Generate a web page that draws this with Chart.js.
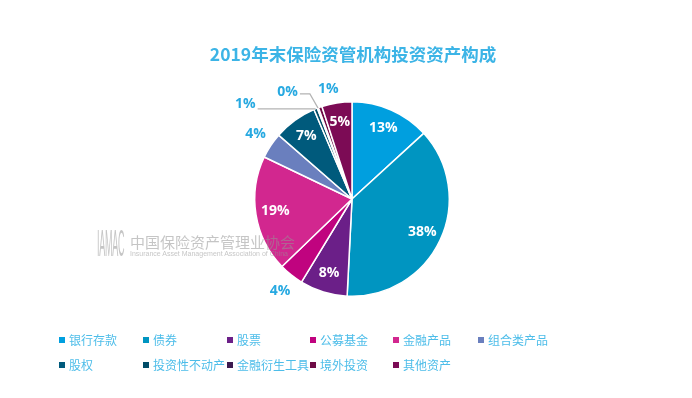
<!DOCTYPE html>
<html>
<head>
<meta charset="utf-8">
<script src="https://cdn.jsdelivr.net/npm/chart.js@4.4.0/dist/chart.umd.min.js"></script>
<style>
    body { margin: 0; background: #fff; }
    .wrap { position: relative; width: 692px; height: 398px; overflow: hidden; font-family: "Noto Sans CJK SC", "Noto Sans", sans-serif; }
    #pie { position: absolute; left: 0; top: 0; }
    .title { position: absolute; left: 0; width: 706px; top: 42px; text-align: center; font-size: 17.5px; font-weight: bold; color: #3cb4e6; line-height: 24px; }
    .mark { position: absolute; left: 96px; top: 228px; color: rgba(150,150,150,0.55); pointer-events: none; }
    .mark .logo { position: absolute; left: 1px; top: -5px; font-family: "Liberation Sans Narrow", sans-serif; font-size: 36px; letter-spacing: -1px; transform: scaleX(0.25); transform-origin: left; font-weight: 300; white-space: nowrap; }
    .mark .cn { position: absolute; left: 34px; top: 3px; font-size: 15px; white-space: nowrap; letter-spacing: 0px; }
    .mark .en { position: absolute; left: 34px; top: 22px; font-size: 7px; white-space: nowrap; font-family: "Liberation Sans", sans-serif; }
    .legend .item { position: absolute; font-size: 12px; color: #4dbde9; white-space: nowrap; line-height: 16px; }
    .legend .box { display: inline-block; width: 6px; height: 6px; margin-right: 4px; vertical-align: 2px; }
</style>
</head>
<body>
<div class="wrap">
    <canvas id="pie" width="692" height="398"></canvas>
    <div class="title">2019年末保险资管机构投资资产构成</div>
    <div class="mark">
        <div class="logo">IAMAC</div>
        <div class="cn">中国保险资产管理业协会</div>
        <div class="en">Insurance Asset Management Association of China</div>
    </div>
    <div class="legend" id="legend"></div>
</div>
<script>
// share of investment assets, %
const categories = ['银行存款', '债券', '股票', '公募基金', '金融产品', '组合类产品', '股权', '投资性不动产', '金融衍生工具', '境外投资', '其他资产'];
const shares = [13.2, 37.6, 7.9, 4.1, 19.3, 4.3, 7.2, 0.6, 0.2, 0.6, 5.0];
const colors = ['#009fdf', '#0095c1', '#6b1f88', '#c0037f', '#d2278f', '#6a7fbe', '#005a7c', '#004d68', '#3d1a4f', '#6e0b45', '#7c0b55'];
// where each percent label goes: inside, outside, or with a leader line
const labelModes = ['in', 'in', 'in', 'out', 'in', 'out', 'in', 'leaderLeft', 'leaderUp', 'outTop', 'in'];

const pieLabels = {
    id: 'pieLabels',
    afterDatasetsDraw(chart) {
        const ctx = chart.ctx;
        const arcs = chart.getDatasetMeta(0).data;
        ctx.save();
        ctx.font = 'bold 14px "Open Sans", sans-serif';
        ctx.textBaseline = 'middle';
        arcs.forEach((arc, i) => {
            const p = arc.getProps(['x', 'y', 'startAngle', 'endAngle', 'outerRadius'], true);
            const mid = (p.startAngle + p.endAngle) / 2;
            const r = p.outerRadius;
            const txt = Math.round(shares[i]) + '%';
            const mode = labelModes[i];
            const ex = p.x + Math.cos(mid) * r, ey = p.y + Math.sin(mid) * r;
            if (mode === 'in') {
                ctx.fillStyle = '#fff';
                ctx.textAlign = 'center';
                ctx.fillText(txt, p.x + Math.cos(mid) * r * 0.8, p.y + Math.sin(mid) * r * 0.8);
            } else if (mode === 'out') {
                ctx.fillStyle = '#27a9e1';
                ctx.textAlign = 'center';
                ctx.fillText(txt, p.x + Math.cos(mid) * (r + 18), p.y + Math.sin(mid) * (r + 21));
            } else if (mode === 'outTop') {
                ctx.fillStyle = '#27a9e1';
                ctx.textAlign = 'center';
                ctx.fillText(txt, ex + 8, ey - 18);
            } else {
                ctx.strokeStyle = '#b3b3b3';
                ctx.lineWidth = 1.2;
                ctx.beginPath();
                ctx.moveTo(ex, ey);
                let lx, ly;
                if (mode === 'leaderLeft') {
                    lx = ex - 58; ly = ey;
                    ctx.lineTo(lx, ly);
                } else {
                    ctx.lineTo(ex - 8, ey - 14);
                    lx = ex - 18; ly = ey - 14;
                    ctx.lineTo(lx, ly);
                }
                ctx.stroke();
                ctx.fillStyle = '#27a9e1';
                ctx.textAlign = 'right';
                ctx.fillText(txt, lx - 2, ly - (mode === 'leaderUp' ? 2 : 5));
            }
        });
        ctx.restore();
    }
};

new Chart(document.getElementById('pie'), {
    type: 'pie',
    data: {
        labels: categories,
        datasets: [{
            data: shares,
            backgroundColor: colors,
            borderColor: '#fff',
            borderWidth: 1.5
        }]
    },
    options: {
        responsive: false,
        animation: false,
        layout: { padding: { top: 100, bottom: 100, left: 254, right: 242 } },
        plugins: {
            legend: { display: false },
            tooltip: { enabled: false }
        }
    },
    plugins: [pieLabels]
});

// legend in a 6-column grid
const legendX = [59, 143, 227, 310, 393, 478];
const legend = document.getElementById('legend');
categories.forEach((name, i) => {
    const item = document.createElement('div');
    item.className = 'item';
    item.style.left = legendX[i % 6] + 'px';
    item.style.top = (332 + Math.floor(i / 6) * 25) + 'px';
    item.innerHTML = `<span class="box" style="background:${colors[i]}"></span>${name}`;
    legend.appendChild(item);
});
</script>
</body>
</html>
